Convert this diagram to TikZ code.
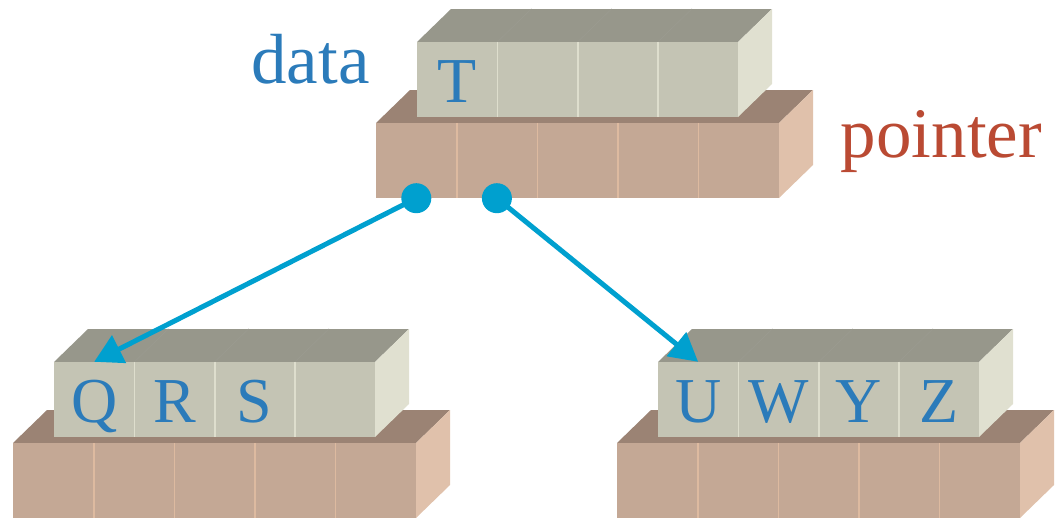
\documentclass[tikz,border=0pt]{standalone}
\usepackage{fontspec}
\setmainfont{Liberation Serif}
\usetikzlibrary{arrows.meta}

\definecolor{lettercol}{HTML}{2B7BBA}
\definecolor{ptrlabel}{HTML}{BA4A33}
\definecolor{linkcol}{HTML}{00A0CF}
\definecolor{datafront}{HTML}{C4C4B4}
\definecolor{datatopc}{HTML}{97978B}
\definecolor{datasidec}{HTML}{E0E0D0}
\definecolor{datadivc}{HTML}{DEDECD}
\definecolor{ptrfront}{HTML}{C4A895}
\definecolor{ptrtopc}{HTML}{9B8374}
\definecolor{ptrsidec}{HTML}{E0C1AB}
\definecolor{ptrdivc}{HTML}{DDBAA0}

\tikzset{
  ptrtop/.style={fill=ptrtopc},
  ptrside/.style={fill=ptrsidec},
  ptrcell/.style={rectangle, fill=ptrfront, inner sep=0pt,
    minimum width=80.6pt, minimum height=75pt},
  ptrdiv/.style={draw=ptrdivc, line width=1.7pt},
  datatop/.style={fill=datatopc},
  dataside/.style={fill=datasidec},
  datacell/.style={rectangle, fill=datafront, inner sep=0pt,
    minimum width=80.25pt, minimum height=75pt,
    text height=60pt, text depth=15pt, text=lettercol,
    font=\fontsize{64}{64}\selectfont},
  datadiv/.style={draw=datadivc, line width=1.7pt},
  topdiv/.style={draw=datatopc!96!white, line width=0.6pt},
  label/.style={anchor=base, font=\fontsize{71}{71}\selectfont},
  dot/.style={circle, fill=linkcol, inner sep=0pt, minimum size=30pt},
  link/.style={draw=linkcol, line width=5pt,
    -{Triangle[length=28pt,width=30pt]}},
}

% One node of the tree: a row of four data cells resting on a row of
% five pointer cells.  #1 name prefix, (#2,#3) top-left of the pointer
% row's front face, #4--#7 the data letters.
\newcommand\treeunit[7]{%
  \begin{scope}[shift={(#2,#3)}]
    % pointer row
    \fill[ptrtop] (0,0) -- (34,-33) -- (437,-33) -- (403,0) -- cycle;
    \fill[ptrside] (403,0) -- (437,-33) -- (437,42) -- (403,75) -- cycle;
    \foreach \i in {1,...,5}
      \node[ptrcell] (#1p\i) at ({(\i-0.5)*80.6},37.5) {};
    \foreach \i in {1,...,4}
      \draw[ptrdiv] (#1p\i.north east) -- (#1p\i.south east);
    % data row
    \fill[datatop] (41,-81) -- (75,-114) -- (396,-114) -- (362,-81) -- cycle;
    \fill[dataside] (362,-81) -- (396,-114) -- (396,-39) -- (362,-6) -- cycle;
    \node[datacell] (#1d1) at ({41+0.5*80.25},-43.5) {#4};
    \node[datacell] (#1d2) at ({41+1.5*80.25},-43.5) {#5};
    \node[datacell] (#1d3) at ({41+2.5*80.25},-43.5) {#6};
    \node[datacell] (#1d4) at ({41+3.5*80.25},-43.5) {#7};
    \foreach \i in {1,2,3} {
      \draw[datadiv] (#1d\i.north east) -- (#1d\i.south east);
      \draw[topdiv] (#1d\i.north east) -- ++(34,-33);
    }
  \end{scope}}

\begin{document}
\begin{tikzpicture}[x=1pt, y=-1pt]
  \useasboundingbox (0,0) rectangle (1055,520);

  \treeunit{top}{376}{123}{T}{}{}{}
  \treeunit{lf}{13}{443}{Q}{R}{S}{}
  \treeunit{rt}{617}{443}{U}{W}{Y}{Z}

  \node[label, text=lettercol] (datalbl) at (310.5,83) {data};
  \node[label, text=ptrlabel] (ptrlbl) at (941.5,157) {pointer};

  \node[dot] (s1) at (topp1.south) {};
  \node[dot] (s2) at (topp2.south) {};
  \draw[link] (s1.center) -- (lfd1.north);
  \draw[link] (s2.center) -- (rtd1.north);
\end{tikzpicture}
\end{document}
